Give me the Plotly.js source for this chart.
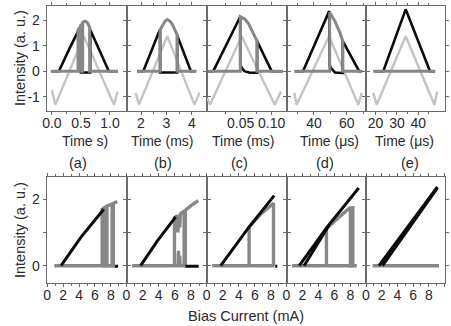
<!DOCTYPE html>
<html><head><meta charset="utf-8">
<script src="https://cdn.plot.ly/plotly-3.0.1.min.js"></script>
<style>html,body{margin:0;padding:0;background:#fff;}#chart{width:451px;height:326px;}</style>
</head><body><div id="chart"></div>
<script>
// ---------- labels / ticks ----------
const panelLabels = ['(a)', '(b)', '(c)', '(d)', '(e)'];
const timeTitles = ['Time s)', 'Time (ms)', 'Time (ms)', 'Time (\u03bcs)', 'Time (\u03bcs)'];
const topTickVals = [[0, 0.5, 1.0], [2, 3, 4], [0.05, 0.10], [40, 60], [20, 30, 40]];
const topTickText = [['0.0', '0.5', '1.0'], ['2', '3', '4'], ['0.05', '0.10'], ['40', '60'], ['20', '30', '40']];
const topMinorVals = [[0.25, 0.75], [2.5, 3.5], [0.025, 0.075], [30, 50, 70], [25, 35, 45]];
const yTopTicks = [-1, 0, 1, 2];
const yTopText = ['-1', '0', '1', '2'];
const yBottomTicks = [0, 2];
const yBottomMinor = [1];
const biasTicks = [0, 2, 4, 6, 8];
const biasTicksLast = [0, 2, 4, 6, 8, 10];
const biasMinor = [1, 3, 5, 7, 9];
const yTitle = 'Intensity (a. u.)';
const xBottomTitle = 'Bias Current (mA)';

// ---------- top row: time traces (drive = light grey, black, grey) ----------
const aDriveT = [0.0, 0.06, 0.55, 1.07, 1.13];
const aDriveY = [-0.75, -1.31, 1.37, -1.31, -0.8];
const aBlackT = [0.0, 0.12, 0.30, 0.47, 0.50, 0.50, 0.62, 0.66, 0.66, 0.98, 1.13];
const aBlackY = [0, 0, 0.87, 1.70, 1.78, -0.05, -0.05, -0.05, 1.62, 0, 0];
const aGreyT = [-0.02, 0.45, 0.45, 0.47, 0.47, 0.49, 0.49, 0.51, 0.51, 0.53, 0.53, 0.57, 0.61, 0.65, 0.65, 1.14];
const aGreyY = [0, 0, 1.62, 1.70, 0, 0, 1.78, 1.84, 0, 0, 1.92, 1.96, 1.90, 1.72, 0, 0];

const bDriveT = [1.79, 1.92, 3.03, 4.10, 4.30];
const bDriveY = [-0.85, -1.31, 1.37, -1.31, -0.83];
const bBlackT = [1.85, 2.09, 2.72, 2.75, 2.75, 3.42, 3.42, 3.96, 4.15];
const bBlackY = [0, 0, 1.57, 1.62, -0.05, -0.05, 1.40, 0, 0];
const bGreyT = [1.85, 2.75, 2.75, 2.85, 2.95, 3.03, 3.12, 3.22, 3.32, 3.42, 3.42, 4.18];
const bGreyY = [0, 0, 1.62, 1.82, 1.96, 2.02, 1.97, 1.85, 1.66, 1.42, 0, 0];

const cDriveT = [-0.004, 0.0005, 0.0516, 0.105, 0.115];
const cDriveY = [-1.05, -1.31, 1.37, -1.31, -0.8];
const cBlackT = [-0.004, 0.0058, 0.0493, 0.0493, 0.052, 0.056, 0.065, 0.0765, 0.0765, 0.100, 0.118];
const cBlackY = [0, 0, 2.13, 0.25, 0.12, 0.0, -0.06, -0.06, 1.18, 0, 0];
const cGreyT = [-0.004, 0.0495, 0.0495, 0.056, 0.0623, 0.0703, 0.0765, 0.0765, 0.118];
const cGreyY = [0, 0, 2.13, 2.05, 1.88, 1.52, 1.18, 0, 0];

const dDriveT = [28.0, 29.4, 49.2, 67.1, 69.2];
const dDriveY = [-0.85, -1.31, 1.37, -1.31, -0.85];
const dBlackT = [28.4, 33.3, 49.3, 49.6, 50.4, 52.8, 57.0, 57.6, 57.6, 67.6, 69.5];
const dBlackY = [0, 0, 2.35, 0.25, 0.12, -0.05, -0.07, -0.07, 1.18, 0, 0];
const dGreyT = [28.0, 49.6, 49.6, 52.8, 55.9, 57.6, 57.6, 69.2];
const dGreyY = [0, 0, 2.30, 1.96, 1.50, 1.18, 0, 0];

const eDriveT = [18.9, 20.5, 34.1, 47.6, 48.9];
const eDriveY = [-0.85, -1.31, 1.37, -1.31, -0.8];
const eBlackT = [19.7, 23.6, 34.1, 45.5, 47.9];
const eBlackY = [0, 0, 2.42, 0, 0];
const eGreyT = [18.9, 47.9];
const eGreyY = [0, 0];

// ---------- bottom row: intensity vs bias current ----------
const aLiBlackI = [1.75, 4.25, 7.1, null, 8.5, 8.9];
const aLiBlackY = [0, 0.86, 1.70, null, -0.02, -0.02];
const aLiGreyI = [0.9, 8.5, null, 6.9, 6.9, 7.05, 7.05, 7.2, 7.2, 7.35, 7.35, 7.5, 7.5, 7.65, 8.15, 8.15, 8.3, 8.3, 8.8];
const aLiGreyY = [0, 0, null, 0, 1.70, 1.72, 0, 0, 1.75, 1.77, 0, 0, 1.79, 1.81, 1.86, 0, 0, 1.88, 1.93];

const bLiBlackI = [1.75, 3.83, 6.1, null, 7.3, 8.95];
const bLiBlackY = [0, 0.75, 1.47, null, -0.02, -0.02];
const bLiGreyI = [0.7, 7.3, null, 5.95, 5.95, 6.3, 6.38, 6.45, 6.6, 6.68, 7.15, 7.15, null, 7.3, 7.3, 8.0, 8.9, null, 6.4, 6.45, 6.5, 6.6, 6.65];
const bLiGreyY = [0, 0, null, 0, 1.44, 1.51, 1.0, 1.53, 1.15, 1.56, 1.64, 0, null, 0, 1.67, 1.81, 1.96, null, 0, 0.45, 0, 0.3, 0];

const cLiBlackI = [1.75, 5.08, 8.41, null, 8.55, 8.8];
const cLiBlackY = [0, 1.10, 2.11, null, -0.02, -0.02];
const cLiGreyI = [0.7, 8.45, null, 5.29, 5.29, 6.75, 8.33, 8.33];
const cLiGreyY = [0, 0, null, 0, 1.17, 1.56, 1.88, 0];

const dLiBlackI = [1.6, 5.08, 9.04, null, 2.2, 5.3];
const dLiBlackY = [0, 1.16, 2.34, null, 0, 1.21];
const dLiGreyI = [0.7, 8.8, null, 5.0, 5.0, 6.33, 8.0, 8.0, 8.3, 8.3];
const dLiGreyY = [0, 0, null, 0, 1.12, 1.41, 1.76, 0, 0, 1.80];

const eLiBlackI = [1.65, 9.1, null, 2.1, 9.1];
const eLiBlackY = [0, 2.37, null, 0, 2.34];
const eLiGreyI = [0.84, 9.3];
const eLiGreyY = [0, 0];

// ---------- assembly ----------
const topSets = [
  [aDriveT, aDriveY, aBlackT, aBlackY, aGreyT, aGreyY],
  [bDriveT, bDriveY, bBlackT, bBlackY, bGreyT, bGreyY],
  [cDriveT, cDriveY, cBlackT, cBlackY, cGreyT, cGreyY],
  [dDriveT, dDriveY, dBlackT, dBlackY, dGreyT, dGreyY],
  [eDriveT, eDriveY, eBlackT, eBlackY, eGreyT, eGreyY]
];
const bottomSets = [
  [aLiBlackI, aLiBlackY, aLiGreyI, aLiGreyY],
  [bLiBlackI, bLiBlackY, bLiGreyI, bLiGreyY],
  [cLiBlackI, cLiBlackY, cLiGreyI, cLiGreyY],
  [dLiBlackI, dLiBlackY, dLiGreyI, dLiGreyY],
  [eLiBlackI, eLiBlackY, eLiGreyI, eLiGreyY]
];

const W = 451, H = 326;
const colEdges = [46.7, 126.5, 206.7, 286.5, 366, 444.5];
const topRowPx = [5.5, 111.3];
const botRowPx = [176.7, 283.3];
const topRanges = [[-0.09, 1.285], [1.43, 4.58], [-0.0048, 0.124], [23.2, 71.8], [15.5, 52.3]];
const botRanges = [[-0.05, 9.95], [0, 9.95], [0, 9.95], [0, 9.95], [0, 10.0]];

const BLACK = '#0b0b0b', GREY = '#878787', LIGHT = '#c3c3c3', FRAME = '#6a6a6a', TXT = '#2a2a2a';
const FONT = 'Liberation Sans, Arial, sans-serif';

const px2x = p => p / W;
const px2y = p => 1 - p / H;

const data = [];
const layout = {
  width: W, height: H, margin: {l: 0, r: 0, t: 0, b: 0},
  paper_bgcolor: '#fff', plot_bgcolor: '#fff', showlegend: false,
  font: {family: FONT, size: 14, color: TXT},
  annotations: []
};

function axisBase(extra) {
  return Object.assign({
    showgrid: false, zeroline: false, showline: true, linecolor: FRAME, linewidth: 1,
    mirror: 'ticks', ticks: 'outside', ticklen: 3, tickcolor: FRAME, tickwidth: 1,
    tickmode: 'array', tickfont: {family: FONT, size: 14, color: TXT}, fixedrange: true
  }, extra);
}

for (let i = 0; i < 10; i++) {
  const n = i + 1;
  const xa = 'xaxis' + (n === 1 ? '' : n), ya = 'yaxis' + (n === 1 ? '' : n);
  const xr = 'x' + (n === 1 ? '' : n), yr = 'y' + (n === 1 ? '' : n);
  const col = i % 5, top = i < 5;
  const rowPx = top ? topRowPx : botRowPx;
  layout[xa] = axisBase({
    domain: [px2x(colEdges[col]), px2x(colEdges[col + 1])],
    anchor: yr,
    range: top ? topRanges[col] : botRanges[col],
    tickvals: top ? topTickVals[col] : (col === 4 ? biasTicksLast : biasTicks),
    ticktext: top ? topTickText[col] : (col === 4 ? biasTicksLast : biasTicks).map(String),
    ticklabelstandoff: -4,
    minor: {tickmode: 'array', tickvals: top ? topMinorVals[col] : biasMinor, ticks: 'outside', ticklen: 2, tickcolor: FRAME}
  });
  const yax = axisBase({
    domain: [px2y(rowPx[1]), px2y(rowPx[0])],
    anchor: xr,
    range: top ? [-1.57, 2.57] : [-0.53, 2.68],
    tickvals: top ? yTopTicks : yBottomTicks,
    ticktext: top ? yTopText : yBottomTicks.map(String),
    showticklabels: col === 0
  });
  if (!top) yax.minor = {tickmode: 'array', tickvals: yBottomMinor, ticks: 'outside', ticklen: 3, tickcolor: FRAME};
  layout[ya] = yax;

  if (top) {
    const s = topSets[col];
    data.push({x: s[0], y: s[1], xaxis: xr, yaxis: yr, mode: 'lines', line: {color: LIGHT, width: 2.4}, hoverinfo: 'skip'});
    data.push({x: s[2], y: s[3], xaxis: xr, yaxis: yr, mode: 'lines', line: {color: BLACK, width: 2.6}, hoverinfo: 'skip'});
    data.push({x: s[4], y: s[5], xaxis: xr, yaxis: yr, mode: 'lines', line: {color: GREY, width: 3}, hoverinfo: 'skip'});
  } else {
    const s = bottomSets[col];
    data.push({x: s[2], y: s[3], xaxis: xr, yaxis: yr, mode: 'lines', connectgaps: false, line: {color: GREY, width: 3.4}, hoverinfo: 'skip'});
    data.push({x: s[0], y: s[1], xaxis: xr, yaxis: yr, mode: 'lines', connectgaps: false, line: {color: BLACK, width: 3}, hoverinfo: 'skip'});
  }
}

// text annotations
const labelPx = [78, 163, 240, 325, 410];
const titlePx = [85, 162, 243, 329, 404];
for (let c = 0; c < 5; c++) {
  layout.annotations.push({xref: 'paper', yref: 'paper', x: px2x(titlePx[c]), y: px2y(141), text: timeTitles[c],
    showarrow: false, xanchor: 'center', yanchor: 'middle', font: {family: FONT, size: 14, color: TXT}});
  layout.annotations.push({xref: 'paper', yref: 'paper', x: px2x(labelPx[c]), y: px2y(163), text: panelLabels[c],
    showarrow: false, xanchor: 'center', yanchor: 'middle', font: {family: FONT, size: 14.5, color: TXT}});
}
[58, 230].forEach(yc => layout.annotations.push({xref: 'paper', yref: 'paper', x: px2x(20), y: px2y(yc), text: yTitle,
  textangle: -90, showarrow: false, xanchor: 'center', yanchor: 'middle', font: {family: FONT, size: 14.5, color: TXT}}));
layout.annotations.push({xref: 'paper', yref: 'paper', x: px2x(246), y: px2y(316), text: xBottomTitle,
  showarrow: false, xanchor: 'center', yanchor: 'middle', font: {family: FONT, size: 14.5, color: TXT}});

Plotly.newPlot('chart', data, layout, {staticPlot: true, displayModeBar: false});
</script></body></html>
